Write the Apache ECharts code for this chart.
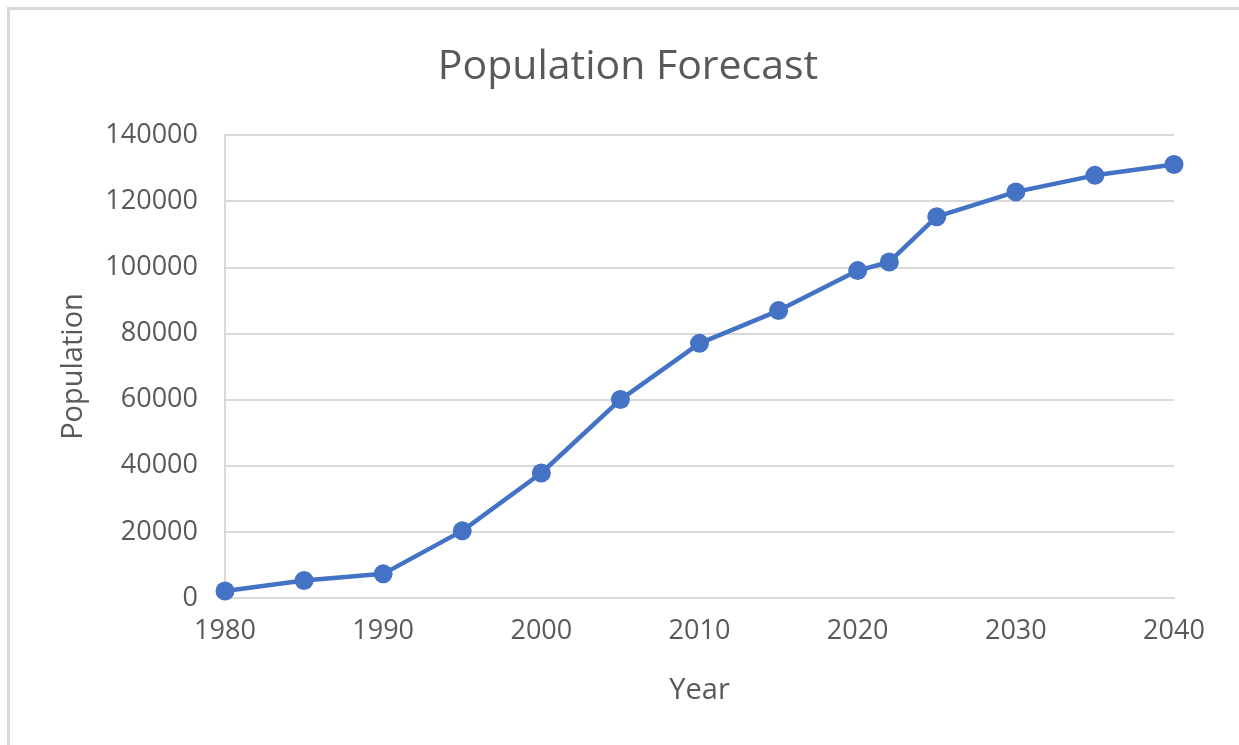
<!DOCTYPE html>
<html>
<head>
<meta charset="utf-8">
<script src="https://cdn.jsdelivr.net/npm/echarts@6/dist/echarts.min.js"></script>
<style>
html,body{margin:0;padding:0;background:#fff;}
#frame{position:absolute;left:7px;top:7px;width:1240px;height:745px;border-left:3px solid #d9d9d9;border-top:3px solid #d9d9d9;box-sizing:border-box;}
#chart{position:absolute;left:0;top:0;width:1239px;height:745px;}
</style>
</head>
<body>
<div id="frame"></div>
<div id="chart"></div>
<script>
var years = [1980, 1985, 1990, 1995, 2000, 2005, 2010, 2015, 2020, 2022, 2025, 2030, 2035, 2040];
var population = [2100, 5300, 7300, 20300, 37800, 60000, 77000, 86900, 99000, 101600, 115300, 122800, 127800, 131100];
var chartTitle = 'Population Forecast';
var xTitle = 'Year';
var yTitle = 'Population';

var data = years.map(function (y, i) { return [y, population[i]]; });
var font = '"Open Sans", "Noto Sans", sans-serif';
var plain = function (v) { return String(v); };
var chart = echarts.init(document.getElementById('chart'));
chart.setOption({
  animation: false,
  backgroundColor: 'transparent',
  title: {
    text: chartTitle,
    left: 627, top: 42, textAlign: 'center',
    textStyle: { fontFamily: font, fontSize: 41, fontWeight: 'normal', color: '#595959' }
  },
  grid: { left: 225, right: 65, top: 135, bottom: 147 },
  xAxis: {
    type: 'value', min: 1980, max: 2040, interval: 10,
    name: xTitle, nameLocation: 'middle', nameGap: 78,
    nameTextStyle: { fontFamily: font, fontSize: 29, color: '#595959' },
    axisLine: { show: true, lineStyle: { color: '#d9d9d9', width: 2 } },
    axisTick: { show: false },
    splitLine: { show: false },
    axisLabel: { fontFamily: font, fontSize: 27, color: '#595959', margin: 20, formatter: plain }
  },
  yAxis: {
    type: 'value', min: 0, max: 140000, interval: 20000,
    name: yTitle, nameLocation: 'middle', nameGap: 137,
    nameTextStyle: { fontFamily: font, fontSize: 29, color: '#595959' },
    axisLine: { show: true, lineStyle: { color: '#d9d9d9', width: 2 } },
    axisTick: { show: false },
    splitLine: { show: true, lineStyle: { color: '#d9d9d9', width: 2 } },
    axisLabel: { fontFamily: font, fontSize: 27, color: '#595959', margin: 27, formatter: plain }
  },
  series: [{
    type: 'line',
    data: data,
    symbol: 'circle', symbolSize: 19,
    lineStyle: { color: '#4472C4', width: 4.5 },
    itemStyle: { color: '#4472C4' }
  }]
});
chart.setOption({ title: { left: 623 } });
</script>
</body>
</html>
